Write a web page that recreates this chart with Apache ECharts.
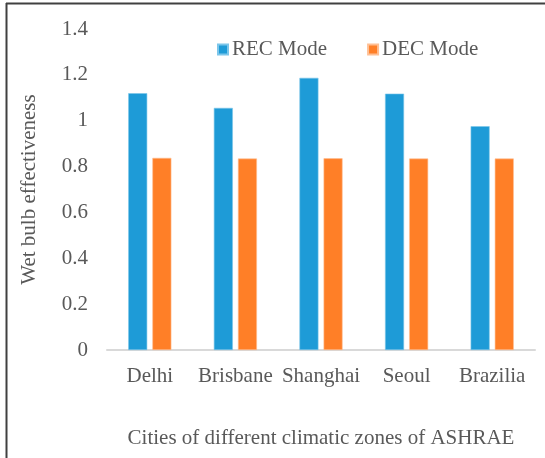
<!DOCTYPE html>
<html>
<head>
<meta charset="utf-8">
<script src="https://cdn.jsdelivr.net/npm/echarts@6/dist/echarts.min.js"></script>
<style>
  html, body { margin: 0; padding: 0; background: #fff; }
  #chart { width: 545px; height: 458px; }
</style>
</head>
<body>
<div id="chart"></div>
<script>
// Wet bulb effectiveness by city, for the two cooling modes
const cities = ['Delhi', 'Brisbane', 'Shanghai', 'Seoul', 'Brazilia'];
const recMode = [1.12, 1.056, 1.187, 1.118, 0.976];
const decMode = [0.838, 0.835, 0.836, 0.835, 0.835];
const yTicks = [0, 0.2, 0.4, 0.6, 0.8, 1, 1.2, 1.4];

const font = '"Liberation Serif", "Times New Roman", serif';
const textColor = '#595959';

const chart = echarts.init(document.getElementById('chart'), null, { renderer: 'canvas' });
chart.setOption({
  animation: false,
  textStyle: { fontFamily: font },
  graphic: [
    { type: 'line', shape: { x1: 6, y1: 3.5, x2: 545, y2: 3.5 }, style: { stroke: '#404040', lineWidth: 2 } },
    { type: 'line', shape: { x1: 6.5, y1: 3, x2: 6.5, y2: 458 }, style: { stroke: '#404040', lineWidth: 2 } }
  ],
  legend: {
    top: 34,
    left: 212,
    itemWidth: 10,
    itemHeight: 10,
    itemGap: 40,
    icon: 'rect',
    textStyle: { fontFamily: font, fontSize: 21, color: textColor, padding: [0, 0, 0, -1] },
    data: ['REC Mode', 'DEC Mode']
  },
  grid: { left: 107, right: 10, top: 29, bottom: 108, containLabel: false },
  xAxis: {
    type: 'category',
    data: cities,
    name: 'Cities of different climatic zones of ASHRAE',
    nameLocation: 'middle',
    nameGap: 78,
    nameTextStyle: { fontFamily: font, fontSize: 21, color: textColor },
    axisLine: { lineStyle: { color: '#d9d9d9', width: 2 } },
    axisTick: { show: false },
    axisLabel: { fontFamily: font, fontSize: 21, color: textColor, margin: 16, interval: 0 }
  },
  yAxis: {
    type: 'value',
    min: 0,
    max: 1.4,
    interval: 0.2,
    name: 'Wet bulb effectiveness',
    nameLocation: 'middle',
    nameGap: 67,
    nameRotate: 90,
    nameTextStyle: { fontFamily: font, fontSize: 21, color: textColor },
    axisLine: { show: false },
    axisTick: { show: false },
    splitLine: { show: false },
    axisLabel: {
      fontFamily: font, fontSize: 21, color: textColor, margin: 19,
      formatter: v => {
        const t = yTicks.find(x => Math.abs(x - v) < 1e-9);
        return t === undefined ? '' : String(t);
      }
    }
  },
  series: [
    {
      name: 'REC Mode', type: 'bar', data: recMode,
      barWidth: 19, barGap: '27%',
      itemStyle: { color: '#1E9BD7', borderColor: '#7cc6ea', borderWidth: 0.6 }
    },
    {
      name: 'DEC Mode', type: 'bar', data: decMode,
      barWidth: 19,
      itemStyle: { color: '#FF7F27', borderColor: '#ffbf94', borderWidth: 0.6 }
    }
  ]
});
</script>
</body>
</html>
